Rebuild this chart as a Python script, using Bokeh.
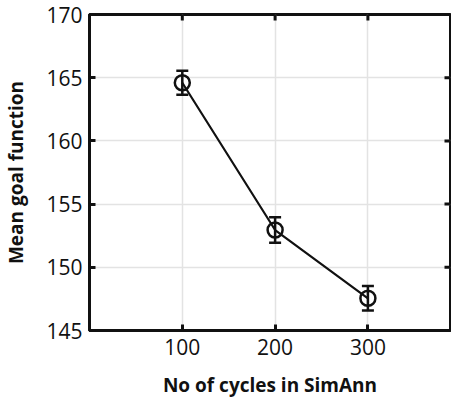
import math
from bokeh.plotting import figure
from bokeh.models import ColumnDataSource, Whisker, TeeHead, FixedTicker, Range1d
from bokeh.embed import file_html
from bokeh.resources import INLINE

# ---- data ----
cycles = [100, 200, 300]
mean_goal = [164.6, 152.95, 147.55]
err = [0.95, 1.0, 0.97]
x_ticks = [100, 200, 300]
y_ticks = [145, 150, 155, 160, 165, 170]
x_label = "No of cycles in SimAnn"
y_label = "Mean goal function"
x_lim = (0, 389)
y_lim = (145, 170)

lower = [m - e for m, e in zip(mean_goal, err)]
upper = [m + e for m, e in zip(mean_goal, err)]
src = ColumnDataSource(dict(x=cycles, y=mean_goal, lower=lower, upper=upper))

FONT = "Open Sans"
INK = "#111111"

p = figure(width=451, height=400, output_backend="svg", toolbar_location=None,
           x_range=Range1d(*x_lim), y_range=Range1d(*y_lim),
           min_border_left=87, min_border_top=14, min_border_bottom=70, min_border_right=1)

p.outline_line_color = INK
p.outline_line_width = 3

for ax in (p.xaxis[0], p.yaxis[0]):
    ax.axis_line_width = 3
    ax.axis_line_color = INK
    ax.major_tick_line_width = 3
    ax.major_tick_line_color = INK
    ax.major_tick_in = 6
    ax.major_tick_out = 0
    ax.minor_tick_line_color = None
    ax.major_label_text_font = FONT
    ax.major_label_text_font_size = "21px"
    ax.major_label_text_color = INK
    ax.axis_label_text_font = FONT
    ax.axis_label_text_font_size = "19px"
    ax.axis_label_text_font_style = "bold"
    ax.axis_label_text_color = INK

p.xaxis.ticker = FixedTicker(ticks=x_ticks)
p.yaxis.ticker = FixedTicker(ticks=y_ticks)
p.xaxis.axis_label = x_label
p.yaxis.axis_label = y_label
p.xaxis.major_label_standoff = 8
p.yaxis.major_label_standoff = 7
p.xaxis.axis_label_standoff = 14
p.yaxis.axis_label_standoff = 14

# mirrored inward ticks on the top and right edges (clipped to the frame)
p.scatter(x=x_ticks, y=[y_lim[1]] * len(x_ticks), marker="dash", size=12,
          angle=math.pi / 2, line_color=INK, line_width=3)
p.scatter(x=[x_lim[1]] * len(y_ticks), y=y_ticks, marker="dash", size=12,
          line_color=INK, line_width=3)

p.xgrid.ticker = FixedTicker(ticks=x_ticks)
p.ygrid.ticker = FixedTicker(ticks=y_ticks[1:-1])
p.xgrid.grid_line_color = "#e3e3e3"
p.ygrid.grid_line_color = "#e3e3e3"
p.xgrid.grid_line_width = 1.5
p.ygrid.grid_line_width = 1.5

p.line("x", "y", source=src, line_color=INK, line_width=2.2)
w = Whisker(source=src, base="x", upper="upper", lower="lower",
            line_color=INK, line_width=2.5,
            upper_head=TeeHead(size=12, line_width=2.5, line_color=INK),
            lower_head=TeeHead(size=12, line_width=2.5, line_color=INK))
p.add_layout(w)
p.scatter("x", "y", source=src, marker="circle", size=15, fill_color=None,
          line_color=INK, line_width=2.5)

open("out.html", "w").write(file_html(p, INLINE))
